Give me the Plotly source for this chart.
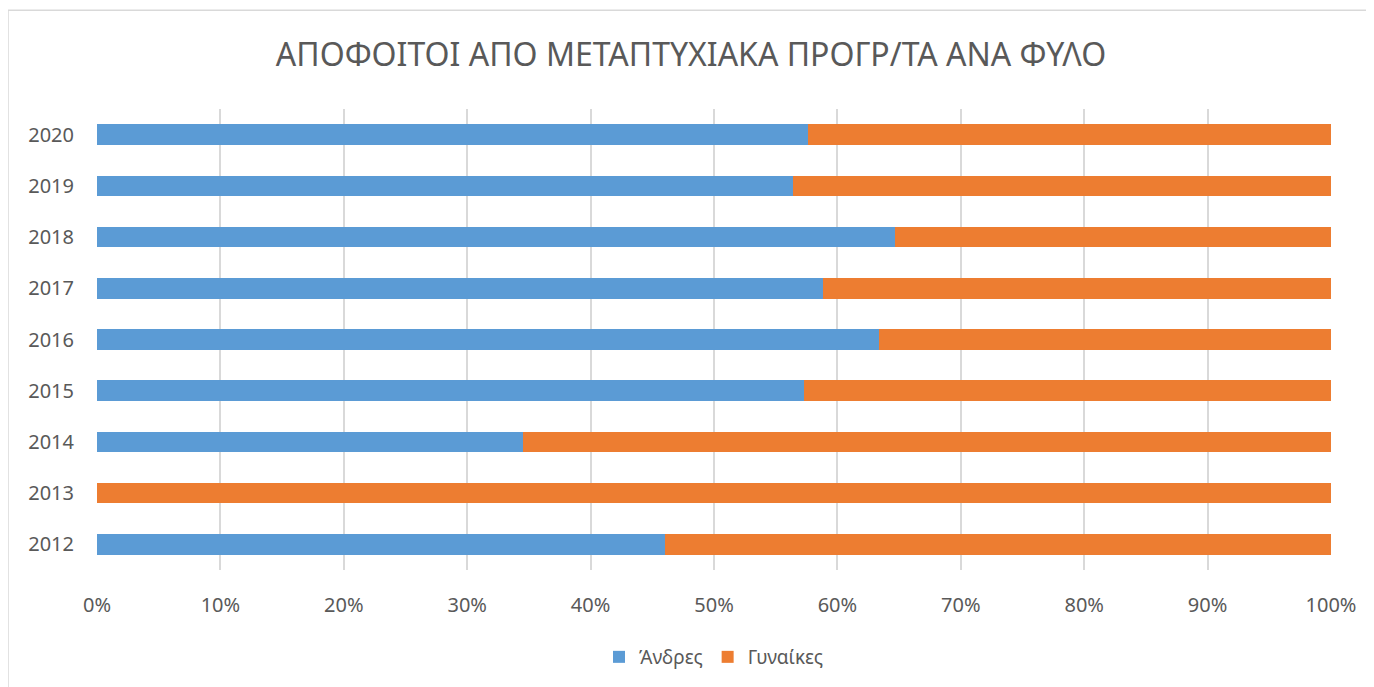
import plotly.graph_objects as go

# Δεδομένα (ποσοστά ανά έτος)
eti = ["2012", "2013", "2014", "2015", "2016", "2017", "2018", "2019", "2020"]
andres = [46.0, 0.0, 34.5, 57.3, 63.4, 58.8, 64.7, 56.4, 57.6]
gynaikes = [54.0, 100.0, 65.5, 42.7, 36.6, 41.2, 35.3, 43.6, 42.4]
tick_vals = [0, 10, 20, 30, 40, 50, 60, 70, 80, 90, 100]
tick_text = ["0%", "10%", "20%", "30%", "40%", "50%", "60%", "70%", "80%", "90%", "100%"]

grizo = "#595959"
gramma = "Noto Sans"

# η σελίδα έχει περιθώριο 8px, οπότε το σχήμα είναι λίγο μικρότερο
W, H = 1366, 679
L, R, T, B = 89, 43, 101, 116
ploth = H - T - B

fig = go.Figure()
fig.add_trace(go.Bar(y=eti, x=andres, name="Άνδρες", orientation="h",
                     marker=dict(color="#5B9BD5", line=dict(width=0))))
fig.add_trace(go.Bar(y=eti, x=gynaikes, name="Γυναίκες", orientation="h",
                     marker=dict(color="#ED7D31", line=dict(width=0))))

fig.update_layout(
    width=W, height=H,
    barmode="stack", bargap=0.6,
    plot_bgcolor="white", paper_bgcolor="white",
    margin=dict(l=L, r=R, t=T, b=B),
    font=dict(family=gramma, color=grizo),
    title=dict(text="ΑΠΟΦΟΙΤΟΙ ΑΠΟ ΜΕΤΑΠΤΥΧΙΑΚΑ ΠΡΟΓΡ/ΤΑ ΑΝΑ ΦΥΛΟ",
               x=0.5, xanchor="center", y=1 - 47 / H, yanchor="middle",
               font=dict(size=32, color=grizo, family=gramma)),
    legend=dict(orientation="h", x=0.5, xanchor="center",
                y=(H - B - 649) / ploth, yanchor="middle",
                font=dict(size=19, color=grizo), traceorder="normal",
                itemwidth=30),
    showlegend=True,
)

fig.update_xaxes(range=[0, 100], tickvals=tick_vals, ticktext=tick_text,
                 showgrid=True, gridcolor="#D9D9D9", gridwidth=1.5,
                 zeroline=False, showline=False,
                 ticks="outside", ticklen=17, tickcolor="rgba(0,0,0,0)",
                 tickfont=dict(size=20, color=grizo), fixedrange=True)
fig.update_yaxes(showgrid=False, zeroline=False, showline=False,
                 ticks="outside", ticklen=18, tickcolor="rgba(0,0,0,0)",
                 tickfont=dict(size=20, color=grizo), fixedrange=True)

# περίγραμμα γραφήματος
fig.add_shape(type="rect", xref="paper", yref="paper",
              x0=-L / 1234, x1=1.06, y0=-0.3, y1=(H - B - 2) / ploth,
              line=dict(color="#D9D9D9", width=1.5), layer="below")

fig.write_html("out.html")
